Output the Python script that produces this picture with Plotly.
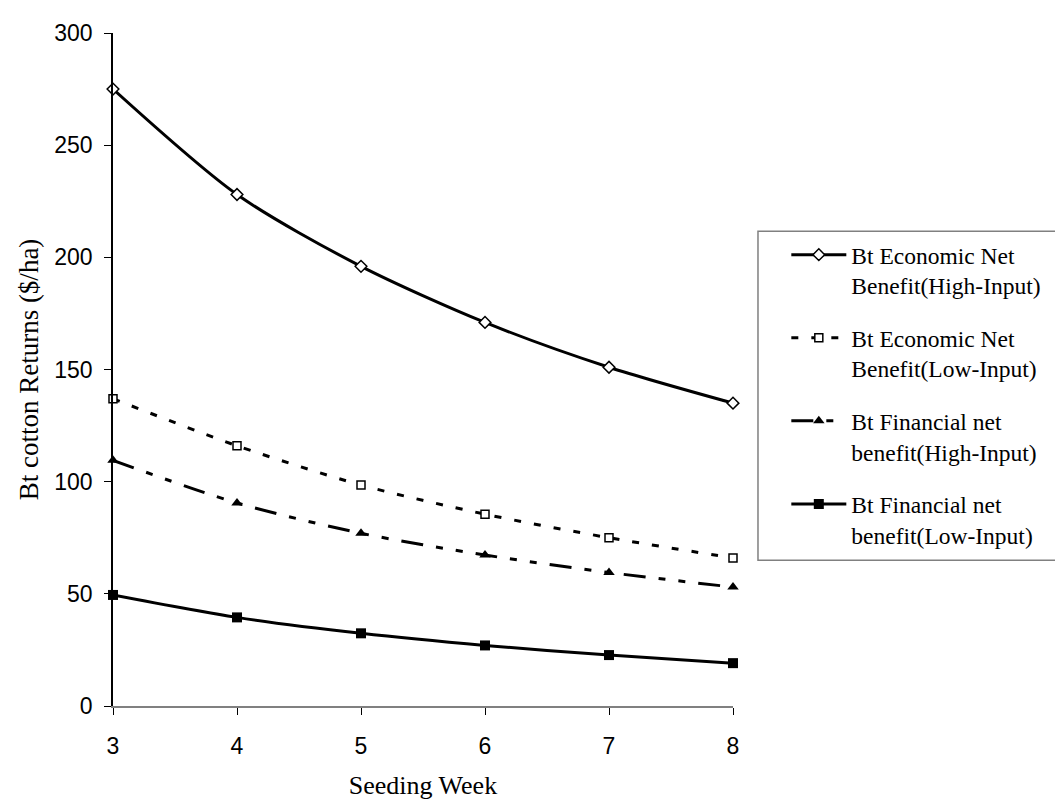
import plotly.graph_objects as go

weeks = [3, 4, 5, 6, 7, 8]
econ_high = [275, 228, 196, 171, 151, 135]
econ_low = [137, 116, 98.5, 85.5, 75, 66]
fin_high = [109.5, 90.5, 77, 67.3, 59.5, 53]
fin_low = [49.5, 39.5, 32.4, 27, 22.7, 19.1]

names = [
    "Bt Economic Net<br>Benefit(High-Input)",
    "Bt Economic Net<br>Benefit(Low-Input)",
    "Bt Financial net<br>benefit(High-Input)",
    "Bt Financial net<br>benefit(Low-Input)",
]

fig = go.Figure()
fig.add_trace(go.Scatter(
    x=weeks, y=econ_high, name=names[0], mode="lines+markers", legendgroup="a",
    line=dict(color="black", width=3, shape="spline", smoothing=0.8),
    marker=dict(symbol="diamond", size=9, color="white", line=dict(color="black", width=1.5)),
    cliponaxis=False))
fig.add_trace(go.Scatter(
    x=weeks, y=econ_low, name=names[1], mode="lines+markers", legendgroup="b",
    line=dict(color="black", width=3, shape="spline", smoothing=0.8, dash="7px,13px"),
    marker=dict(symbol="square", size=8, color="white", line=dict(color="black", width=1.5)),
    cliponaxis=False))
fig.add_trace(go.Scatter(
    x=weeks, y=fin_high, name=names[2], mode="lines+markers", legendgroup="c",
    line=dict(color="black", width=3, shape="spline", smoothing=0.8,
              dash="22px,13px,7px,13px,7px,13px"),
    marker=dict(symbol="triangle-up", size=10, color="black"),
    cliponaxis=False))
fig.add_trace(go.Scatter(
    x=weeks, y=fin_low, name=names[3], mode="lines+markers", legendgroup="d",
    line=dict(color="black", width=3, shape="spline", smoothing=0.8),
    marker=dict(symbol="square", size=10, color="black"),
    cliponaxis=False))

# legend frame
fig.add_shape(type="rect", xref="paper", yref="paper",
              x0=1.0403, x1=1.552, y0=0.2165, y1=0.7054,
              line=dict(color="#808080", width=1.5), fillcolor="rgba(0,0,0,0)")

fig.update_layout(
    width=1063, height=799,
    margin=dict(l=105, r=338, t=20, b=100),
    paper_bgcolor="white", plot_bgcolor="white",
    showlegend=True,
    legend=dict(
        x=1.086, y=0.703, xanchor="left", yanchor="top",
        borderwidth=0, bgcolor="rgba(0,0,0,0)",
        font=dict(family="Liberation Serif", size=23.5, color="black"),
        tracegroupgap=19, traceorder="grouped", itemwidth=55, valign="top",
    ),
    xaxis=dict(
        range=[3, 8], dtick=1, tick0=3,
        showgrid=False, zeroline=False,
        showline=True, linecolor="#808080", linewidth=1.5,
        ticks="outside", ticklen=7, tickcolor="black",
        ticklabelstandoff=12,
        tickfont=dict(family="Liberation Sans", size=23, color="black"),
        title=dict(text="Seeding Week", font=dict(family="Liberation Serif", size=26, color="black"), standoff=17),
    ),
    yaxis=dict(
        range=[0, 300], dtick=50,
        showgrid=False, zeroline=False,
        showline=True, linecolor="black", linewidth=1.5,
        ticks="outside", ticklen=7, tickcolor="black",
        ticklabelstandoff=7,
        tickfont=dict(family="Liberation Sans", size=23, color="black"),
        title=dict(text="Bt cotton Returns ($/ha)", font=dict(family="Liberation Serif", size=27, color="black"), standoff=8),
    ),
)

fig.write_html("out.html")
